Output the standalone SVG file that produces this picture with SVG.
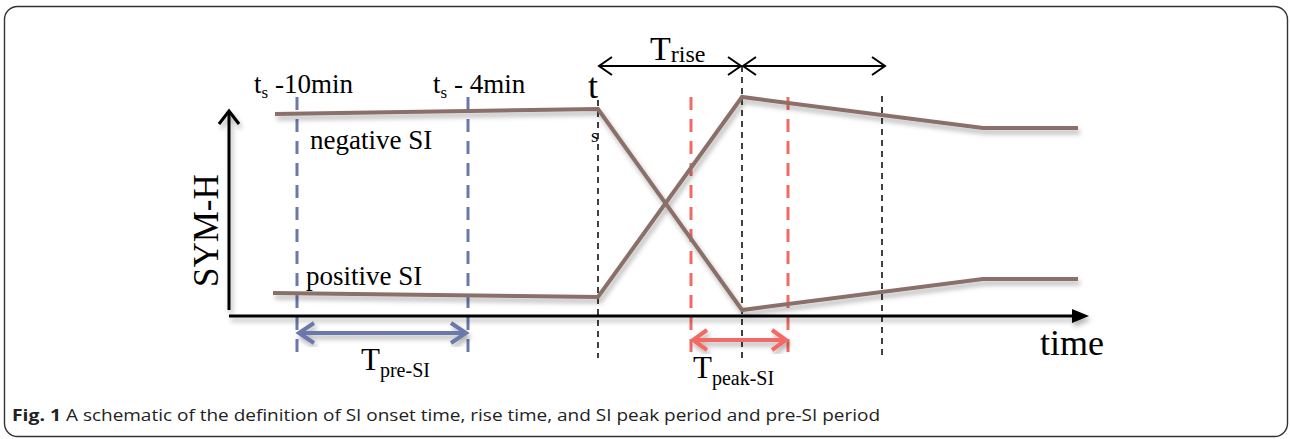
<svg xmlns="http://www.w3.org/2000/svg" width="1290" height="439" viewBox="0 0 1290 439">
<style>
.serif{font-family:"Liberation Serif","Times New Roman",serif;fill:#000}
.cap{font-family:"Open Sans","Liberation Sans",sans-serif;font-size:16px;fill:#222}
.curve{fill:none;stroke:#8a7068;stroke-width:4;stroke-linejoin:miter}
.vblack{stroke:#111;stroke-width:1.6;stroke-dasharray:6 5}
.vblue{stroke:#6b78aa;stroke-width:3;stroke-dasharray:13 9}
.vred{stroke:#f26b63;stroke-width:3;stroke-dasharray:13 9}
.blk{fill:none;stroke:#000;stroke-width:2}
</style>
<defs>
<filter id="sh" x="-10%" y="-10%" width="120%" height="130%">
<feDropShadow dx="2" dy="4" stdDeviation="2.5" flood-color="#000" flood-opacity="0.3"/>
</filter>
</defs>
<rect x="4.5" y="6.5" width="1283" height="430" rx="13" fill="#fff" stroke="#333" stroke-width="1.4"/>

<g id="vertical-markers">
<line class="vblue" x1="297" y1="97" x2="297" y2="357"/>
<line class="vblue" x1="468" y1="97" x2="468" y2="357"/>
<line class="vblack" x1="598" y1="100" x2="598" y2="358"/>
<line class="vblack" x1="742" y1="66" x2="742" y2="358"/>
<line class="vblack" x1="882" y1="96" x2="882" y2="358"/>
<line class="vred" x1="691" y1="97" x2="691" y2="357"/>
<line class="vred" x1="788" y1="97" x2="788" y2="357"/>
</g>

<g id="curves" filter="url(#sh)">
<polyline id="upper-start" class="curve" points="275,114 598,109 742,310 983,279 1078,279"/>
<polyline id="lower-start" class="curve" points="273,293 598,297 742,97 983,128 1078,128"/>
</g>

<g id="axes" filter="url(#sh)">
<line x1="229" y1="310" x2="229" y2="111" stroke="#000" stroke-width="3"/>
<polyline points="219,124 229,111 239,124" fill="none" stroke="#000" stroke-width="3"/>
<line x1="229" y1="316" x2="1072" y2="316" stroke="#000" stroke-width="3"/>
<polygon points="1072,309 1089,316 1072,323" fill="#000"/>
</g>

<g id="connectors">
<g id="t-rise-arrow">
<line class="blk" x1="599" y1="66" x2="741" y2="66"/>
<polyline class="blk" points="612,57 599,66 612,75"/>
<polyline class="blk" points="728,57 741,66 728,75"/>
</g>
<g id="after-arrow">
<line class="blk" x1="743" y1="66" x2="885" y2="66"/>
<polyline class="blk" points="756,57 743,66 756,75"/>
<polyline class="blk" points="872,57 885,66 872,75"/>
</g>
<g id="pre-si-arrow" filter="url(#sh)">
<line x1="299" y1="333" x2="466" y2="333" stroke="#6b78aa" stroke-width="4"/>
<polyline points="314,323 299,333 314,343" fill="none" stroke="#6b78aa" stroke-width="4"/>
<polyline points="451,323 466,333 451,343" fill="none" stroke="#6b78aa" stroke-width="4"/>
</g>
<g id="peak-si-arrow" filter="url(#sh)">
<line x1="693" y1="340" x2="786" y2="340" stroke="#f26b63" stroke-width="4"/>
<polyline points="707,330 693,340 707,350" fill="none" stroke="#f26b63" stroke-width="4"/>
<polyline points="772,330 786,340 772,350" fill="none" stroke="#f26b63" stroke-width="4"/>
</g>
</g>

<g id="labels">
<text id="sym-h" class="serif" font-size="35" transform="translate(218,287) rotate(-90)">SYM-H</text>
<text id="t-minus-10" class="serif" font-size="27" x="254" y="93">t<tspan font-size="17" dy="5">s</tspan><tspan dy="-5"> -10min</tspan></text>
<text id="t-minus-4" class="serif" font-size="27" x="433" y="93">t<tspan font-size="17" dy="5">s</tspan><tspan dy="-5"> - 4min</tspan></text>
<text id="ts-t" class="serif" font-size="36" x="588" y="98">t</text>
<text id="ts-s" class="serif" font-size="19" x="591" y="142">s</text>
<text id="negative-si" class="serif" font-size="27" x="310" y="149">negative SI</text>
<text id="positive-si" class="serif" font-size="27" x="306" y="285">positive SI</text>
<text id="t-rise" class="serif" font-size="34" x="650" y="60">T<tspan font-size="24" dy="2">rise</tspan></text>
<text id="t-pre-si" class="serif" font-size="31" x="361" y="370">T<tspan font-size="20" dy="7">pre-SI</tspan></text>
<text id="t-peak-si" class="serif" font-size="31" x="693" y="378">T<tspan font-size="20" dy="7">peak-SI</tspan></text>
<text id="time" class="serif" font-size="36" x="1040" y="355">time</text>
</g>

<g id="caption">
<text class="cap" x="12" y="421" font-weight="bold" font-size="17" textLength="49" lengthAdjust="spacingAndGlyphs">Fig. 1</text>
<text class="cap" x="66" y="421" textLength="814" lengthAdjust="spacingAndGlyphs">A schematic of the definition of SI onset time, rise time, and SI peak period and pre-SI period</text>
</g>
</svg>
